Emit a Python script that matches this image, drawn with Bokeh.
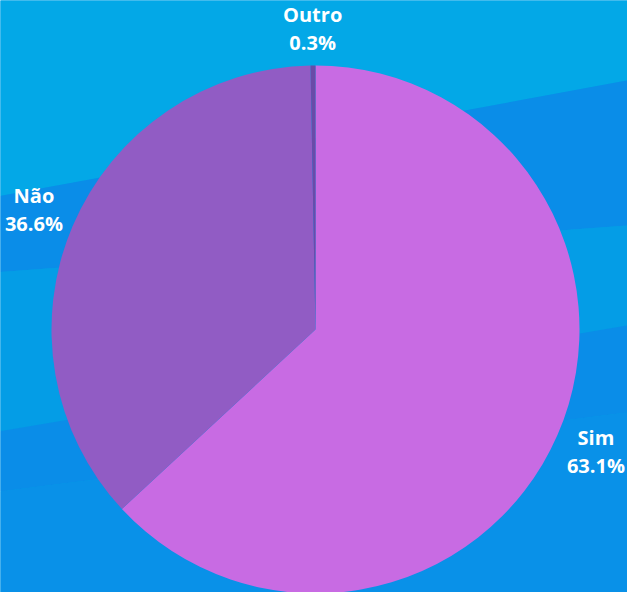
import math
from bokeh.plotting import figure
from bokeh.models import Range1d, ColumnDataSource
from bokeh.core.properties import value
from bokeh.embed import file_html
from bokeh.resources import INLINE

# ---- data ----
categories = ["Sim", "Não", "Outro"]
percents = [63.1, 36.6, 0.3]
colors = ["#C86BE3", "#915CC4", "#6A4BA8"]

# ---- layout constants (reference pixel space) ----
W, H = 627, 592
OFF = 8
CX, CY_PIX = 323, 337
R = 264
LABEL_R = 306
TOP_LABEL_R = 301   # keep the top label inside the page

def ty(ypix):
    return 600 - ypix

total = sum(percents)
starts, ends, lx, ly, names, pct_txt = [], [], [], [], [], []
acc = 0.0
for c, v in zip(categories, percents):
    a0 = acc / total * 360.0
    acc += v
    a1 = acc / total * 360.0
    starts.append(math.radians(90 - a0))
    ends.append(math.radians(90 - a1))
    mid = math.radians((a0 + a1) / 2)
    lr = TOP_LABEL_R if math.cos(mid) > 0.95 else LABEL_R
    lx.append(CX + lr * math.sin(mid))
    ly.append(ty(CY_PIX - lr * math.cos(mid)))
    names.append(c)
    pct_txt.append(f"{v:.1f}%")

src = ColumnDataSource(dict(start=starts, end=ends, color=colors,
                            x=lx, y=ly, name=names, pct=pct_txt))

p = figure(width=W, height=H, output_backend="svg", toolbar_location=None,
           x_range=Range1d(OFF, OFF + W), y_range=Range1d(0, H),
           min_border=0, match_aspect=False)
p.axis.visible = False
p.grid.visible = False
p.outline_line_color = None
p.background_fill_color = "#069DE6"
p.border_fill_color = "#069DE6"

# decorative background bands (pixel space of reference)
bands = [
    ([0, 635, 635, 0], [0, 0, 88, 205], "#03A8E7"),
    ([0, 635, 635, 0], [205, 88, 233, 280], "#0A8DE8"),
    ([0, 635, 635, 0], [280, 233, 333, 440], "#049DE6"),
    ([0, 635, 635, 0], [440, 333, 420, 500], "#0A8DE8"),
    ([0, 635, 635, 0], [500, 420, 600, 600], "#0991E8"),
]
for xs, ys, col in bands:
    p.patch(xs, [ty(y) for y in ys], fill_color=col, line_color=None)

p.wedge(x=CX, y=ty(CY_PIX), radius=R, start_angle="start", end_angle="end",
        direction="clock", fill_color="color", line_color=None, source=src)

font = value("Open Sans")
p.text(x="x", y="y", text="name", source=src, text_font=font,
       text_font_style="bold", text_font_size="20px", text_color="white",
       text_align="center", text_baseline="middle", y_offset=-14)
p.text(x="x", y="y", text="pct", source=src, text_font=font,
       text_font_style="bold", text_font_size="20px", text_color="white",
       text_align="center", text_baseline="middle", y_offset=14)

open("out.html", "w").write(file_html(p, INLINE))
